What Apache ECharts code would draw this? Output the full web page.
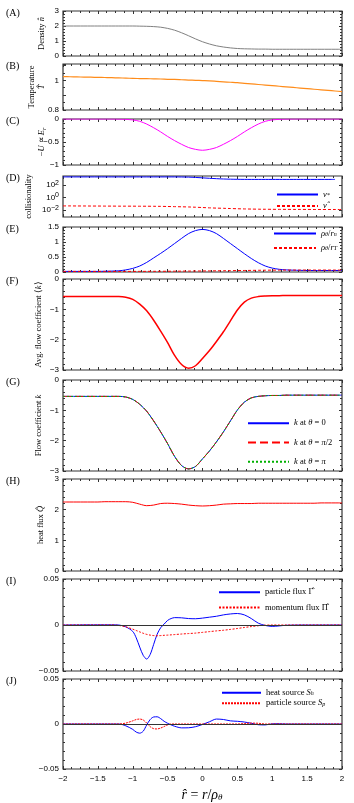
<!DOCTYPE html>
<html>
<head>
<meta charset="utf-8">
<script src="https://cdn.jsdelivr.net/npm/echarts@6/dist/echarts.min.js"></script>
<style>html,body{margin:0;padding:0;background:#fff}#main{width:354px;height:803px}</style>
</head>
<body>
<div id="main"></div>
<script>
// sample positions r/rho_theta for panels A-H
var xGrid = [-2,-1.9,-1.8,-1.7,-1.6,-1.5,-1.4,-1.3,-1.2,-1.1,-1,-0.9,-0.8,-0.7,-0.6,-0.5,-0.4,-0.3,-0.2,-0.1,0,
  0.1,0.2,0.3,0.4,0.5,0.6,0.7,0.8,0.9,1,1.1,1.2,1.3,1.4,1.5,1.6,1.7,1.8,1.9,2];

var density = [2,2,2,2,2,2,2,2,2,2,2, 1.99,1.98,1.96,1.92,1.84,1.72,1.55,1.35,1.14,0.95,
  0.8,0.68,0.6,0.54,0.5,0.48,0.47,0.46,0.46,0.45, 0.45,0.45,0.45,0.45,0.45,0.45,0.45,0.45,0.45,0.45];
var temperature = [1.025,1.024,1.023,1.022,1.021,1.02,1.019,1.018,1.016,1.015,1.013,1.012,1.011,1.01,1.009,1.007,1.006,1.004,1.002,1.0,
  0.998,0.996,0.993,0.99,0.987,0.984,0.98,0.976,0.972,0.968,0.964,0.96,0.956,0.952,0.948,0.944,0.94,0.936,0.932,0.928,0.924];
var eField = [0,0,0,0,0,0,0,0, -0.003,-0.008,-0.02,-0.05,-0.11,-0.19,-0.28,-0.38,-0.47,-0.55,-0.62,-0.66, -0.68,
  -0.66,-0.62,-0.55,-0.47,-0.38,-0.28,-0.19,-0.11,-0.05,-0.02,-0.008,-0.003, 0,0,0,0,0,0,0,0];
var nuStar = [2000,2000,2000,2000,2000,2000,2000,2000,2000,2000,2000,2000,2000,2000,2000,2000,2000,
  1950,1860,1660,1410,1200,1050,930,870,830,810, 800,800,800,800,800,800,800,800,800,800,800,800,800];
var nuHat = [0.047,0.047,0.046,0.046,0.045,0.045,0.044,0.044,0.043,0.043,0.043,0.042,0.042,0.041,0.04,0.038,0.036,0.034,0.032,0.029,
  0.026,0.023,0.021,0.0195,0.018,0.0166,0.0155,0.0148,0.0141,0.0138,0.0135,0.0132,0.0132,0.0129,0.0129,0.0129,0.0126,0.0126,0.0126,0.0126,0.0126];
var rhoRn = [0.02,0.02,0.02,0.02,0.02,0.02,0.025,0.03,0.04,0.07,0.12,0.2,0.32,0.47,0.62,0.78,0.95,1.12,1.28,1.38,
  1.42,1.38,1.28,1.12,0.95,0.78,0.61,0.45,0.31,0.2,0.13,0.09,0.07,0.06,0.055,0.05,0.05,0.05,0.05,0.05,0.05];
var rhoRT = [0.02,0.02,0.02,0.02,0.02,0.02,0.02,0.02,0.02,0.02,0.02, 0.021,0.022,0.023,0.024,0.025,0.027,0.029,0.031,0.033,0.035,
  0.037,0.04,0.042,0.045,0.048,0.051,0.054,0.057,0.06,0.062, 0.063,0.064,0.065,0.065,0.065,0.065,0.065,0.065,0.065,0.065];
var avgFlow = [-0.58,-0.58,-0.58,-0.58,-0.58,-0.58,-0.58,-0.58,-0.58,
  -0.6,-0.67,-0.83,-1.05,-1.36,-1.72,-2.1,-2.52,-2.82,-2.94,-2.86, -2.62,
  -2.36,-2.06,-1.74,-1.38,-1.02,-0.76,-0.63,-0.58,-0.56,-0.55,
  -0.55,-0.54,-0.54,-0.54,-0.54,-0.54,-0.54,-0.54,-0.54,-0.54];
var flowK = [-0.54,-0.54,-0.54,-0.54,-0.54,-0.54,-0.54,-0.54,-0.54,
  -0.56,-0.64,-0.8,-1.03,-1.35,-1.71,-2.1,-2.52,-2.82,-2.93,-2.85, -2.6,
  -2.34,-2.04,-1.71,-1.35,-0.99,-0.73,-0.59,-0.54,-0.52,-0.51,
  -0.51,-0.5,-0.5,-0.5,-0.5,-0.5,-0.5,-0.5,-0.5,-0.5];
var heatFlux = [2.25,2.25,2.25,2.25,2.25,2.25,2.26,2.26,2.26,2.26,2.24,2.18,2.13,2.15,2.2,2.21,2.2,2.18,2.15,2.13,
  2.12,2.13,2.15,2.18,2.19,2.2,2.2,2.2,2.21,2.21,2.21,2.21,2.21,2.21,2.21,2.21,2.21,2.22,2.22,2.22,2.22];

// sample positions for panels I and J
var fluxX = [-2,-1.5,-1.3,-1.2,-1.1,-1,-0.95,-0.9,-0.85,-0.8,-0.75,-0.7,-0.65,-0.6,-0.55,-0.5,-0.45,-0.4,
  -0.3,-0.2,-0.1,0,0.1,0.2,0.3,0.4,0.5,0.6,0.7,0.8,0.9,1,1.1,1.2,1.5,2];
var particleFlux = [0,0.0002,0.0002,0,-0.002,-0.007,-0.014,-0.024,-0.033,-0.037,-0.032,-0.021,-0.01,-0.003,0.001,0.005,0.007,0.008,
  0.0078,0.007,0.0068,0.0075,0.0085,0.0095,0.011,0.012,0.0125,0.011,0.007,0.002,-0.0005,-0.0015,-0.001,-0.0003,0,0];
var momentumFlux = [0,0,0,-0.0005,-0.002,-0.0045,-0.006,-0.0075,-0.009,-0.0102,-0.011,-0.0115,-0.0117,-0.0115,-0.0112,-0.011,-0.0107,-0.0104,
  -0.0098,-0.0093,-0.0088,-0.008,-0.0072,-0.0064,-0.0057,-0.0048,-0.0038,-0.0027,-0.0017,-0.0008,-0.0002,0,0,0,0,0];
var heatSource = [0,0,0,0,-0.002,-0.006,-0.009,-0.0102,-0.008,-0.001,0.005,0.0078,0.008,0.006,0.003,0.0008,-0.001,-0.0025,
  -0.0043,-0.0042,-0.003,-0.0005,0.0025,0.0055,0.005,0.0035,0.003,0.0022,0.0008,-0.0008,-0.001,0.0002,0.0003,0,0,0];
var particleSource = [0,0,0,0,0.001,0.0035,0.005,0.0055,0.0045,0.001,-0.003,-0.0052,-0.0055,-0.0045,-0.0028,-0.001,0,0,
  0,0,0,0,0,0,0,0,0,0.0005,0.001,0.0008,0,0,0,0,0,0];

var logTicks = [0.01,1,100];

var SERIF = 'Liberation Serif';
var SANS = 'Liberation Sans';
var INK = '#333';

var rich = {
  r: {fontFamily: SERIF, fontSize: 8.5, color: '#000'},
  i: {fontFamily: SERIF, fontSize: 8.5, fontStyle: 'italic', color: '#000'},
  s: {fontFamily: SERIF, fontSize: 6, fontStyle: 'italic', color: '#000', verticalAlign: 'bottom', padding: [3, 0, 0, 0]}
};

var panels = [
  {tag:'(A)', top:11, height:45, min:0, max:3, interval:1, name:'{r|Density }{i|n̂}', gap:16},
  {tag:'(B)', top:64, height:46, min:0.8, max:1.11, interval:0.1, name:'{r|Temperature}\n{i|T̂}', gap:16, only:[0.8,1]},
  {tag:'(C)', top:119, height:46, min:-1, max:0, interval:0.5, name:'{r|−}{i|U}{r| ∝ }{i|E}{s|r}', gap:16},
  {tag:'(D)', top:176, height:41, log:true, min:0.0008, max:2800, name:'{r|collisionality}', gap:29},
  {tag:'(E)', top:227, height:45, min:0, max:1.5, interval:0.5},
  {tag:'(F)', top:279, height:91, min:-3, max:0, interval:1, name:'{r|Avg. flow coefficient ⟨}{i|k}{r|⟩}', gap:19},
  {tag:'(G)', top:380, height:91, min:-3, max:0, interval:1, name:'{r|Flow coefficient }{i|k}', gap:19},
  {tag:'(H)', top:479, height:92, min:0, max:3, interval:1, name:'{r|heat flux }{i|Q̂}', gap:17},
  {tag:'(I)', top:579, height:92, min:-0.05, max:0.05, interval:0.05},
  {tag:'(J)', top:679, height:90, min:-0.05, max:0.05, interval:0.05}
];

function minus(v) { return String(v).replace('-', '−'); }

var grids = [], xAxes = [], yAxes = [], graphics = [];
panels.forEach(function (p, k) {
  grids.push({left:63, width:279, top:p.top, height:p.height, show:true, borderColor:INK, borderWidth:1.2});
  ['bottom','top'].forEach(function (pos) {
    var showLab = (k === panels.length - 1 && pos === 'bottom');
    xAxes.push({
      gridIndex:k, type:'value', position:pos, min:-2, max:2, interval:0.5,
      axisLine:{show:false, onZero:false}, splitLine:{show:false},
      axisTick:{inside:true, length:3, lineStyle:{color:INK}},
      minorTick:{show:true, splitNumber:4, length:2, lineStyle:{color:INK}},
      axisLabel:{show:showLab, margin:6, fontFamily:SANS, fontSize:8, color:'#000', formatter:minus}
    });
  });
  ['left','right'].forEach(function (pos) {
    var ax = {
      gridIndex:k, position:pos, min:p.min, max:p.max,
      axisLine:{show:false, onZero:false}, splitLine:{show:false},
      axisTick:{inside:true, length:3, lineStyle:{color:INK}},
      axisLabel:{show:pos === 'left', margin:4, fontFamily:SANS, fontSize:8, color:'#000', formatter:minus}
    };
    if (p.log) {
      ax.type = 'log'; ax.logBase = 10;
      ax.axisTick.customValues = logTicks;
      ax.axisLabel.customValues = logTicks;
      ax.axisLabel.formatter = function (v) {
        var e = Math.round(Math.log10(v));
        return '{b|10}{e|' + minus(e) + '}';
      };
      ax.axisLabel.rich = {
        b: {fontFamily:SANS, fontSize:8, color:'#000'},
        e: {fontFamily:SANS, fontSize:7, color:'#000', verticalAlign:'top', padding:[0,0,5,0]}
      };
    } else {
      ax.type = 'value'; ax.interval = p.interval;
      ax.minorTick = {show:true, splitNumber:p.only ? 2 : 5, length:2, lineStyle:{color:INK}};
      if (p.only) {
        ax.axisLabel.showMaxLabel = false;
        ax.axisLabel.formatter = function (v) {
          return p.only.some(function (o) { return Math.abs(o - v) < 1e-9; }) ? String(+v.toFixed(2)) : '';
        };
      }
    }
    if (pos === 'left' && p.name) {
      ax.name = p.name; ax.nameLocation = 'middle'; ax.nameGap = p.gap; ax.nameRotate = 90;
      ax.nameMoveOverlap = false;
      ax.nameTextStyle = {rich: rich, align:'center', lineHeight:10};
    }
    yAxes.push(ax);
  });
  graphics.push({type:'text', left:6, top:p.top - 3, style:{text:p.tag, font:'10px ' + SERIF, fill:'#000'}});
});

graphics.push({
  type:'text', x:202, y:795,
  style:{
    text:'{i|r̂}{r| = }{i|r}{r|/}{i|ρ}{s|θ}', textAlign:'center', textVerticalAlign:'middle',
    rich:{
      r:{fontFamily:SERIF, fontSize:14, fill:'#000'},
      i:{fontFamily:SERIF, fontSize:14, fontStyle:'italic', fill:'#000'},
      s:{fontFamily:SERIF, fontSize:9, fontStyle:'italic', fill:'#000', verticalAlign:'bottom', padding:[6,0,0,0]}
    }
  }
});

function line(name, k, xs, ys, color, type, width) {
  return {
    name:name, type:'line', xAxisIndex:2 * k, yAxisIndex:2 * k, symbol:'none', smooth:0.3,
    data: xs.map(function (x, i) { return [x, ys[i]]; }),
    lineStyle:{color:color, type:type || 'solid', width:width || 1}, itemStyle:{color:color}
  };
}

var zeroLine = {silent:true, symbol:['none','none'], label:{show:false}, data:[{yAxis:0}],
  lineStyle:{color:INK, type:'solid', width:1}};

var BLUE = '#0000ff', RED = '#ff0000', GREEN = '#00b000';
var series = [
  line('density', 0, xGrid, density, '#808080'),
  line('temperature', 1, xGrid, temperature, '#ff8c1a', 'solid', 1.2),
  line('field', 2, xGrid, eField, '#ff00ff'),
  line('ν*', 3, xGrid, nuStar, BLUE),
  line('ν̂', 3, xGrid, nuHat, RED, [3, 2]),
  line('ρθ/rn', 4, xGrid, rhoRn, BLUE),
  line('ρθ/rT', 4, xGrid, rhoRT, RED, [3, 2]),
  line('avg', 5, xGrid, avgFlow, RED, 'solid', 1.5),
  line('k at θ = 0', 6, xGrid, flowK, BLUE),
  line('k at θ = π/2', 6, xGrid, flowK, RED, [8, 4]),
  line('k at θ = π', 6, xGrid, flowK, GREEN, [2, 2]),
  line('heat', 7, xGrid, heatFlux, RED),
  Object.assign(line('particle flux Γ̂', 8, fluxX, particleFlux, BLUE), {markLine: zeroLine, z: 3}),
  line('momentum flux Π̂', 8, fluxX, momentumFlux, RED, [2, 1.5]),
  Object.assign(line('heat source Sh', 9, fluxX, heatSource, BLUE), {markLine: zeroLine, z: 3}),
  line('particle source Sp', 9, fluxX, particleSource, RED, [2, 1])
];

var legendText = {
  'ν*': '{i|ν}{s|*}',
  'ν̂': '{i|ν̂}',
  'ρθ/rn': '{i|ρ}{s|θ}{r|/}{i|r}{s|n}',
  'ρθ/rT': '{i|ρ}{s|θ}{r|/}{i|r}{s|T}',
  'k at θ = 0': '{i|k}{r| at }{i|θ}{r| = 0}',
  'k at θ = π/2': '{i|k}{r| at }{i|θ}{r| = }{i|π}{r|/2}',
  'k at θ = π': '{i|k}{r| at }{i|θ}{r| = }{i|π}',
  'particle flux Γ̂': '{r|particle flux Γ̂}',
  'momentum flux Π̂': '{r|momentum flux Π̂}',
  'heat source Sh': '{r|heat source }{i|S}{s|h}',
  'particle source Sp': '{r|particle source }{i|S}{s|p}'
};

function legend(names, left, top, gap, w) {
  return {
    data:names, left:left, top:top, orient:'vertical', itemGap:gap, itemWidth:w, itemHeight:8,
    selectedMode:false, padding:0,
    itemStyle:{opacity:0},
    formatter:function (n) { return legendText[n]; },
    textStyle:{rich:rich, lineHeight:8}
  };
}

var chart = echarts.init(document.getElementById('main'));
chart.setOption({
  animation:false,
  backgroundColor:'#fff',
  grid:grids, xAxis:xAxes, yAxis:yAxes,
  legend:[
    legend(['ν*','ν̂'], 276, 190, 2.4, 41),
    legend(['ρθ/rn','ρθ/rT'], 273, 229, 5.4, 42),
    legend(['k at θ = 0','k at θ = π/2','k at θ = π'], 247, 418.7, 10.3, 41),
    legend(['particle flux Γ̂','momentum flux Π̂'], 218, 587.7, 6.3, 41),
    legend(['heat source Sh','particle source Sp'], 221, 688.3, 1.4, 39)
  ],
  graphic:graphics,
  series:series
});
</script>
</body>
</html>
